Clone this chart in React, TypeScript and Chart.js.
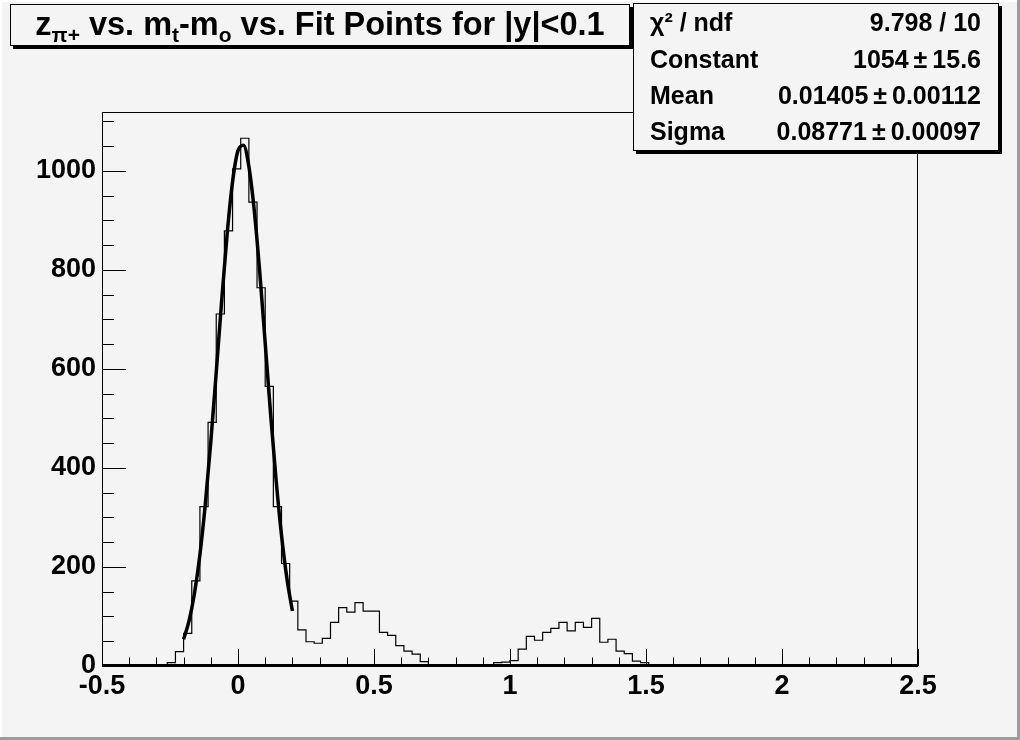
import React, { useEffect, useRef } from "react";
import { Chart, registerables } from "chart.js";

Chart.register(...registerables);

// ---- data ----
const xMin = -0.5;
const xMax = 2.5;
const binWidth = 0.03;
const binCounts = [
  0, 0, 0, 0, 0, 0, 0, 0, 7, 29,
  66, 172, 322, 492, 711, 879, 1004, 1066, 937, 764,
  565, 322, 207, 131, 73, 49, 46, 56, 88, 118,
  109, 128, 111, 111, 68, 62, 41, 30, 24, 9,
  3, 0, 0, 0, 0, 0, 0, 0, 7, 8,
  11, 34, 60, 52, 68, 76, 88, 71, 88, 78,
  96, 48, 54, 30, 25, 10, 7, 3, 0, 0,
  0, 0, 0, 0, 0, 0, 0, 0, 0, 0,
  0, 0, 0, 0, 0, 0, 0, 0, 0, 0,
  0, 0, 0, 0, 0, 0, 0, 0, 0, 0,
];
const fitX = [-0.2, -0.18, -0.16, -0.14, -0.12, -0.1, -0.08, -0.06, -0.04, -0.02, 0, 0.02, 0.04, 0.06, 0.08, 0.1, 0.12, 0.14, 0.16, 0.18, 0.2];
const fitY = [54, 91, 147, 225, 328, 453, 593, 738, 872, 978, 1041, 1052, 1009, 919, 795, 652, 508, 376, 264, 176, 111];
const yMax = 1119;
const yMajorStep = 200;
const yMinorStep = 50;
const xMajorStep = 0.5;
const xMinorStep = 0.1;
const statsLabels = ["χ² / ndf", "Constant", "Mean", "Sigma"];
const statsValues = ["9.798 / 10", "1054\u2009±\u200915.6", "0.01405\u2009±\u20090.00112", "0.08771\u2009±\u20090.00097"];
// title pieces: [text, isSubscript]
const titleParts: [string, boolean][] = [
  ["z", false],
  ["π+", true],
  [" vs. m", false],
  ["t", true],
  ["-m", false],
  ["o", true],
  [" vs. Fit Points for |y|<0.1", false],
];

const FONT = '"Liberation Sans", Arial, sans-serif';
const BG = "#f4f4f4";

const decor = {
  id: "rootDecor",
  beforeDraw(chart: any) {
    const ctx = chart.ctx;
    const W = chart.width, H = chart.height;
    ctx.save();
    ctx.fillStyle = BG;
    ctx.fillRect(0, 0, W, H);
    ctx.fillStyle = "#ffffff";
    ctx.fillRect(0, 0, W, 2);
    ctx.fillRect(0, 0, 2, H);
    ctx.fillStyle = "#9c9c9c";
    ctx.fillRect(W - 3, 0, 3, H);
    ctx.fillRect(0, H - 3, W, 3);
    ctx.restore();
  },
  afterDraw(chart: any) {
    const ctx = chart.ctx;
    const { left, right, top, bottom } = chart.chartArea;
    const xs = chart.scales.x, ys = chart.scales.y;
    ctx.save();
    ctx.strokeStyle = "#000";
    ctx.lineWidth = 1;
    // frame
    ctx.strokeRect(left + 0.5, top + 0.5, right - left - 1, bottom - top - 1);
    ctx.fillStyle = "#000";
    ctx.fillRect(left, bottom - 2, right - left, 3);
    // x ticks
    ctx.beginPath();
    const nx = Math.round((xMax - xMin) / xMinorStep);
    for (let i = 0; i <= nx; i++) {
      const v = xMin + i * xMinorStep;
      const px = Math.round(xs.getPixelForValue(v)) + 0.5;
      const major = i % Math.round(xMajorStep / xMinorStep) === 0;
      const len = major ? 17 : 8.5;
      ctx.moveTo(px, bottom);
      ctx.lineTo(px, bottom - len);
    }
    // y ticks
    for (let v = 0; v <= yMax; v += yMinorStep) {
      const py = Math.round(ys.getPixelForValue(v)) + 0.5;
      const major = v % yMajorStep === 0;
      const len = major ? 24 : 12;
      ctx.moveTo(left, py);
      ctx.lineTo(left + len, py);
    }
    ctx.stroke();

    // title box
    const tb = { x: 10, y: 4, w: 620, h: 42 };
    ctx.fillStyle = "#000";
    ctx.fillRect(tb.x + 3, tb.y + 3, tb.w, tb.h);
    ctx.fillStyle = BG;
    ctx.fillRect(tb.x, tb.y, tb.w, tb.h);
    ctx.strokeStyle = "#000";
    ctx.strokeRect(tb.x + 0.5, tb.y + 0.5, tb.w - 1, tb.h - 1);
    const mainFont = `bold 32.5px ${FONT}`;
    const subFont = `bold 21px ${FONT}`;
    let total = 0;
    for (const [t, sub] of titleParts) {
      ctx.font = sub ? subFont : mainFont;
      total += ctx.measureText(t).width;
    }
    let cx = tb.x + tb.w / 2 - total / 2;
    ctx.fillStyle = "#000";
    ctx.textBaseline = "alphabetic";
    ctx.textAlign = "left";
    for (const [t, sub] of titleParts) {
      ctx.font = sub ? subFont : mainFont;
      ctx.fillText(t, cx, sub ? 42 : 35);
      cx += ctx.measureText(t).width;
    }

    // stats box
    const sb = { x: 633, y: 3, w: 366, h: 148 };
    ctx.fillStyle = "#000";
    ctx.fillRect(sb.x + 3, sb.y + 3, sb.w, sb.h);
    ctx.fillStyle = BG;
    ctx.fillRect(sb.x, sb.y, sb.w, sb.h);
    ctx.strokeRect(sb.x + 0.5, sb.y + 0.5, sb.w - 1, sb.h - 1);
    ctx.fillStyle = "#000";
    ctx.font = `bold 25px ${FONT}`;
    const baselines = [31, 68, 104, 140];
    statsLabels.forEach((lab, i) => {
      ctx.textAlign = "left";
      ctx.fillText(lab, 650, baselines[i]);
      ctx.textAlign = "right";
      ctx.fillText(statsValues[i], 981, baselines[i]);
    });
    ctx.restore();
  },
};

export default function App() {
  const ref = useRef<HTMLCanvasElement | null>(null);
  useEffect(() => {
    if (!ref.current) return;
    const histData = binCounts.map((c, i) => ({ x: xMin + i * binWidth, y: c }));
    histData.push({ x: xMax, y: binCounts[binCounts.length - 1] });
    const fitData = fitX.map((x, i) => ({ x, y: fitY[i] }));
    const chart = new Chart(ref.current, {
      type: "line",
      data: {
        datasets: [
          {
            label: "fit",
            data: fitData,
            borderColor: "#000",
            borderWidth: 3.5,
            pointRadius: 0,
            cubicInterpolationMode: "monotone",
            fill: false,
          },
          {
            label: "hist",
            data: histData,
            borderColor: "#000",
            borderWidth: 1.2,
            pointRadius: 0,
            stepped: true,
            fill: false,
          },
        ],
      },
      options: {
        animation: false,
        responsive: false,
        devicePixelRatio: 1,
        layout: { padding: { left: 0, top: 112, right: 102, bottom: 0 } },
        plugins: { legend: { display: false }, tooltip: { enabled: false } },
        scales: {
          x: {
            type: "linear",
            min: xMin,
            max: xMax,
            grid: { display: false, drawTicks: false },
            border: { display: false },
            ticks: {
              stepSize: xMajorStep,
              autoSkip: false,
              maxRotation: 0,
              padding: 4,
              color: "#000",
              font: { family: FONT, size: 27, weight: "bold" },
              callback: (v: any) => String(Math.round(Number(v) * 10) / 10),
            },
            afterFit: (s: any) => { s.height = 74; },
          },
          y: {
            type: "linear",
            min: 0,
            max: yMax,
            grid: { display: false, drawTicks: false },
            border: { display: false },
            ticks: {
              stepSize: yMajorStep,
              includeBounds: false,
              padding: 6,
              color: "#000",
              font: { family: FONT, size: 27, weight: "bold" },
              callback: (v: any) => (Number(v) % yMajorStep === 0 ? String(v) : ""),
            },
            afterFit: (s: any) => { s.width = 102; },
          },
        },
      },
      plugins: [decor],
    } as any);
    return () => chart.destroy();
  }, []);
  return (
    <div style={{ position: "absolute", left: 0, top: 0, width: 1020, height: 740 }}>
      <canvas ref={ref} width={1020} height={740} style={{ display: "block" }} />
    </div>
  );
}
